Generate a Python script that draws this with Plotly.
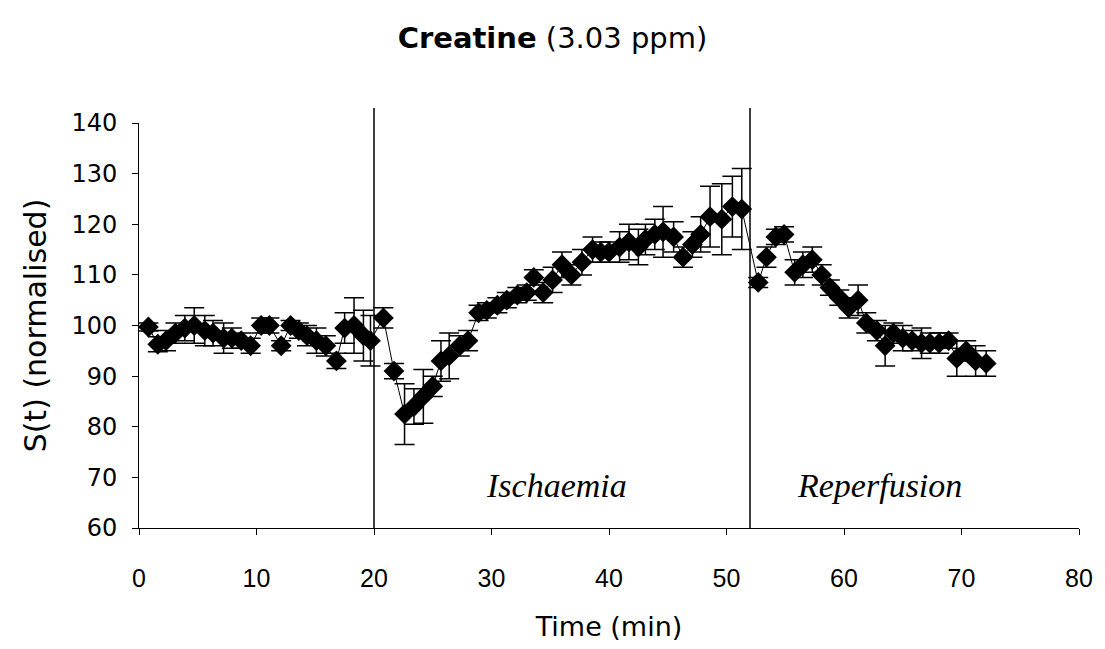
import plotly.graph_objects as go

time_min = [0.8, 1.6, 2.3, 3.1, 3.9, 4.7, 5.6, 6.3, 7.2, 7.9, 8.7, 9.5, 10.4, 11.1, 12.1, 12.9,
            13.6, 14.3, 15.1, 15.9, 16.8, 17.5, 18.3, 19.1, 19.7,
            20.8, 21.7, 22.6, 23.4, 24.2, 25.0, 25.7, 26.4, 27.3, 28.0, 28.9, 29.6, 30.5, 31.3,
            32.2, 33.0, 33.6, 34.4, 35.2, 36.0, 36.8, 37.7, 38.6, 39.3, 40.0, 40.9, 41.7, 42.5,
            43.1, 43.9, 44.6, 45.5, 46.3, 47.1, 47.8, 48.6, 49.6, 50.5, 51.3,
            52.7, 53.4, 54.2, 54.9, 55.8, 56.5, 57.3, 58.1, 58.8, 59.6, 60.4, 61.2, 61.9, 62.8,
            63.5, 64.2, 65.0, 65.8, 66.6, 67.3, 68.1, 68.9, 69.6, 70.4, 71.2, 72.1]

signal = [99.7, 96.3, 97.0, 98.5, 99.5, 100.0, 99.0, 98.5, 97.5, 97.5, 97.0, 96.0, 100.0, 100.0, 96.0, 100.0,
          99.0, 98.0, 97.0, 96.0, 93.0, 99.5, 100.0, 98.0, 97.0,
          101.5, 91.0, 82.5, 84.0, 86.0, 88.0, 93.0, 94.0, 96.0, 97.0, 102.5, 103.0, 104.0, 105.0,
          106.0, 106.5, 109.5, 106.5, 109.0, 112.0, 110.0, 112.5, 115.0, 114.5, 114.5, 115.5, 116.5, 115.5,
          117.0, 118.0, 118.5, 117.5, 113.5, 116.0, 118.0, 121.5, 121.0, 123.5, 123.0,
          108.5, 113.5, 117.5, 118.0, 110.5, 112.0, 113.0, 110.0, 107.5, 105.5, 103.5, 105.0, 100.5, 99.0,
          96.0, 98.5, 97.5, 97.0, 96.5, 96.5, 96.5, 97.0, 93.5, 95.0, 93.0, 92.5]

errors = [0.8, 1.5, 2.0, 2.0, 2.5, 3.5, 3.0, 2.5, 3.0, 2.0, 1.5, 1.5, 1.5, 1.5, 1.0, 1.0,
          1.5, 2.0, 2.5, 2.0, 1.5, 3.0, 5.5, 5.0, 5.0,
          2.0, 1.5, 6.0, 3.5, 5.3, 2.0, 4.0, 4.5, 2.0, 2.0, 1.5, 1.5, 1.5, 1.5,
          1.5, 1.5, 1.5, 2.0, 2.5, 2.5, 2.0, 2.5, 2.5, 2.0, 2.0, 3.0, 3.5, 3.5,
          3.0, 3.0, 5.0, 3.0, 2.0, 2.5, 3.5, 6.0, 7.0, 6.0, 8.0,
          1.0, 2.0, 1.5, 1.5, 2.5, 2.5, 2.5, 2.0, 1.5, 1.5, 2.0, 3.0, 2.0, 2.0,
          4.0, 2.0, 2.5, 2.0, 3.0, 2.0, 2.0, 1.5, 3.5, 2.0, 3.0, 2.5]

x_ticks = [0, 10, 20, 30, 40, 50, 60, 70, 80]
y_ticks = [60, 70, 80, 90, 100, 110, 120, 130, 140]
phase_lines = [20, 52]
phase_labels = ["Ischaemia", "Reperfusion"]
phase_label_x = [35.5, 63.0]

fig = go.Figure()
fig.add_trace(go.Scatter(
    x=time_min, y=signal, mode="lines+markers",
    line=dict(color="black", width=1),
    marker=dict(symbol="diamond", size=16, color="black"),
    error_y=dict(type="data", array=errors, visible=True, color="black", thickness=1.5, width=10),
    showlegend=False,
))

for xv in phase_lines:
    fig.add_shape(type="line", xref="x", yref="paper", x0=xv, x1=xv, y0=0, y1=1.037,
                  line=dict(color="black", width=1.5))

for lab, xv in zip(phase_labels, phase_label_x):
    fig.add_annotation(x=xv, y=68.3, xref="x", yref="y", text="<i>" + lab + "</i>", showarrow=False,
                       font=dict(family="Liberation Serif", size=34, color="black"))

fig.update_layout(
    width=1105, height=649,
    margin=dict(l=139, r=18, t=123, b=121),
    paper_bgcolor="white", plot_bgcolor="white",
    title=dict(text="<b>Creatine</b> (3.03 ppm)",
               x=0.5, xanchor="center", y=0.941, yanchor="middle",
               font=dict(family="DejaVu Sans", size=29, color="black")),
    font=dict(family="Liberation Sans", color="black"),
)
fig.update_xaxes(range=[0, 80], tickvals=x_ticks, ticks="outside", ticklen=6, tickcolor="black",
                 showline=True, linecolor="black", linewidth=1, showgrid=False, zeroline=False,
                 ticklabelstandoff=22,
                 tickfont=dict(family="Liberation Sans", size=25),
                 title=dict(text="Time (min)", font=dict(family="DejaVu Sans", size=27), standoff=26))
fig.update_yaxes(range=[60, 140], tickvals=y_ticks, ticks="outside", ticklen=6, tickcolor="black",
                 showline=True, linecolor="black", linewidth=1, showgrid=False, zeroline=False,
                 ticklabelstandoff=10,
                 tickfont=dict(family="DejaVu Sans", size=24),
                 title=dict(text="S(t) (normalised)", font=dict(family="DejaVu Sans", size=30), standoff=15))

fig.write_html("out.html")
